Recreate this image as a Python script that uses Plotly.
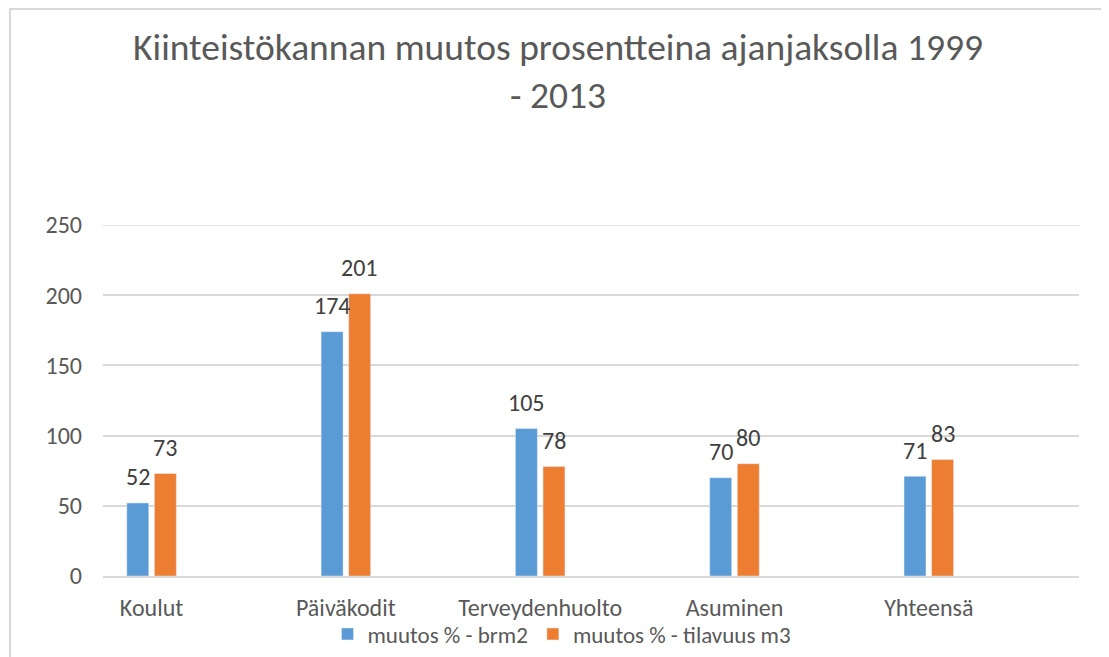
import plotly.graph_objects as go

categories = ["Koulut", "Päiväkodit", "Terveydenhuolto", "Asuminen", "Yhteensä"]
brm2 = [52, 174, 105, 70, 71]
tilavuus = [73, 201, 78, 80, 83]
series_names = ["muutos % - brm2", "muutos % - tilavuus m3"]
y_ticks = [0, 50, 100, 150, 200, 250]

BLUE = "#5B9BD5"
ORANGE = "#ED7D31"
TXT = "#595959"
GRID = "#D9D9D9"
FONT = "Carlito, Liberation Sans, Arial, sans-serif"

# page body adds an 8px offset; figure coords = screen coords - 8
OFF = 8
W, H = 1109 - OFF, 657 - OFF
L, T = 103 - OFF, 225 - OFF
R = W - (1079 - OFF)
B = H - (576 - OFF)
pw, ph = W - L - R, H - T - B

xpos = list(range(len(categories)))
bw = 0.113
fig = go.Figure()
fig.add_trace(go.Bar(x=xpos, y=brm2, name=series_names[0], marker_color=BLUE,
                     width=bw, offset=-0.1275))
fig.add_trace(go.Bar(x=xpos, y=tilavuus, name=series_names[1], marker_color=ORANGE,
                     width=bw, offset=0.0145))

ann = []
for i in xpos:
    ann.append(dict(x=i - 0.071, y=brm2[i], text=str(brm2[i]), showarrow=False,
                    xref="x", yref="y", yanchor="middle", yshift=26,
                    font=dict(size=24, color="#404040", family=FONT)))
    ann.append(dict(x=i + 0.071, y=tilavuus[i], text=str(tilavuus[i]), showarrow=False,
                    xref="x", yref="y", yanchor="middle", yshift=26,
                    font=dict(size=24, color="#404040", family=FONT)))

def px_x(p):
    return (p - OFF - L) / pw

def px_y(p):
    return (H - B - (p - OFF)) / ph

shapes = [
    dict(type="path", xref="paper", yref="paper",
         path=f"M {px_x(10)} {px_y(700)} L {px_x(10)} {px_y(9)} L {px_x(1106)} {px_y(9)} L {px_x(1106)} {px_y(700)}",
         line=dict(color=GRID, width=2)),
    dict(type="line", xref="paper", yref="y", x0=0, x1=1, y0=250, y1=250,
         line=dict(color=GRID, width=1.5), layer="below"),
]

fig.update_layout(
    width=W, height=H,
    margin=dict(l=L, r=R, t=T, b=B, autoexpand=False),
    paper_bgcolor="white", plot_bgcolor="white",
    barmode="overlay",
    title=dict(text="Kiinteistökannan muutos prosentteina ajanjaksolla 1999<br>- 2013",
               x=px_x(558), xref="paper", xanchor="center",
               y=1 - (59.5 - OFF) / H, yanchor="middle", yref="container",
               font=dict(size=37.5, color=TXT, family=FONT)),
    font=dict(family=FONT, color=TXT, size=24),
    xaxis=dict(range=[-0.25, 4.773], tickvals=xpos, ticktext=categories,
               showgrid=False, zeroline=False, showline=True, linecolor=GRID, linewidth=1.5,
               ticks="", ticklabelstandoff=9, tickfont=dict(size=24, color=TXT)),
    yaxis=dict(range=[0, 250], tickvals=y_ticks, showgrid=True, gridcolor=GRID, gridwidth=1.5,
               zeroline=False, showline=False, ticks="", ticklabelstandoff=20,
               tickfont=dict(size=24, color=TXT)),
    legend=dict(orientation="h", x=px_x(562), xanchor="center", y=px_y(634), yanchor="middle",
                font=dict(size=23, color=TXT), itemwidth=30, bgcolor="rgba(0,0,0,0)"),
    annotations=ann,
    shapes=shapes,
)

fig.write_html("out.html")
